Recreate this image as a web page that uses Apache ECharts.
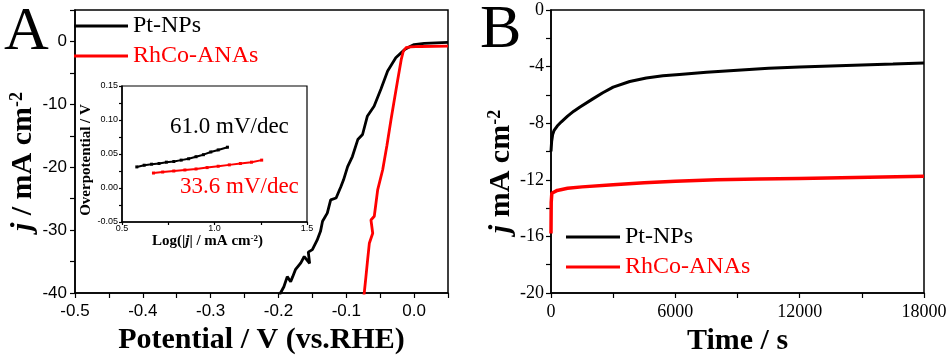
<!DOCTYPE html>
<html><head><meta charset="utf-8">
<script src="https://cdn.jsdelivr.net/npm/echarts@6/dist/echarts.min.js"></script>
<style>html,body{margin:0;padding:0;background:#fff}#c{width:951px;height:358px}</style>
</head><body><div id="c"></div>
<script>
// ---- data ----
const seriesNames = ['Pt-NPs', 'RhCo-ANAs'];

// Panel A: polarization curves (Potential V vs RHE, j mA cm-2)
const lsvPtPotential = [-0.205,-0.197,-0.192,-0.187,-0.182,-0.179,-0.175,-0.167,-0.162,-0.154,-0.156,-0.150,-0.143,-0.138,-0.135,-0.128,-0.123,-0.115,-0.108,-0.104,-0.098,-0.091,-0.083,-0.076,-0.069,-0.059,-0.049,-0.039,-0.027,-0.014,-0.006,0.000,0.015,0.050];
const lsvPtCurrent   = [-42,-40,-39.0,-37.4,-38.2,-37.4,-36.3,-35.2,-34.2,-35.3,-33.5,-33.1,-31.6,-30.2,-28.6,-27.3,-25.2,-24.9,-23.1,-22.0,-19.9,-18.3,-15.6,-14.8,-11.9,-10.3,-7.6,-4.7,-2.6,-1.3,-0.8,-0.5,-0.3,-0.15];
const lsvRhPotential = [-0.076,-0.0735,-0.071,-0.0685,-0.066,-0.061,-0.0636,-0.0587,-0.0537,-0.0463,-0.040,-0.034,-0.029,-0.024,-0.019,-0.016,-0.012,-0.005,0.010,0.050];
const lsvRhCurrent   = [-42,-40,-37.4,-34.7,-32.1,-30.5,-28.4,-27.8,-23.6,-20.4,-16.5,-12.4,-9.2,-6.0,-2.9,-1.6,-1.0,-0.85,-0.8,-0.75];

// Inset: Tafel plots (log|j|, overpotential V)
const tafelPtLog = [0.58,0.62,0.66,0.70,0.74,0.78,0.82,0.86,0.90,0.94,0.98,1.02,1.07];
const tafelPtEta = [0.031,0.0335,0.035,0.036,0.038,0.039,0.041,0.043,0.046,0.049,0.053,0.056,0.060];
const tafelRhLog = [0.67,0.72,0.78,0.84,0.90,0.96,1.02,1.08,1.14,1.20,1.255];
const tafelRhEta = [0.022,0.0235,0.025,0.0265,0.028,0.030,0.032,0.034,0.036,0.038,0.041];
const tafelLabels = ['61.0 mV/dec', '33.6 mV/dec'];

// Panel B: chronoamperometry (time s, j mA cm-2)
const itPtTime = [0,30,80,150,300,500,800,1100,1400,2000,2500,3000,3800,4600,5400,6200,7500,9000,10500,12000,13500,15000,16500,18000];
const itPtCurrent = [-10.0,-9.3,-8.8,-8.5,-8.2,-7.9,-7.5,-7.15,-6.85,-6.3,-5.85,-5.45,-5.05,-4.8,-4.65,-4.55,-4.4,-4.25,-4.12,-4.02,-3.95,-3.88,-3.82,-3.75];
const itRhTime = [0,10,40,100,300,800,1500,3000,4500,6000,8000,10000,12000,14000,16000,18000];
const itRhCurrent = [-15.8,-13.6,-12.95,-12.85,-12.75,-12.6,-12.5,-12.35,-12.2,-12.1,-12.0,-11.95,-11.9,-11.85,-11.8,-11.75];

// ---- chart ----
const BLACK = '#000000', RED = '#ff0000';
const SERIF = 'Liberation Serif', SANS = 'Liberation Sans';
const pairs = (xs, ys) => xs.map((x, i) => [x, ys[i]]);
const axLine = {show: true, onZero: false, lineStyle: {color: BLACK, width: 1.5}};
const tick = (len) => ({show: true, length: len, lineStyle: {color: BLACK, width: 1.2}});

function lbl(fmt, size, family, margin) {
  return {formatter: fmt, fontSize: size, fontFamily: family, color: BLACK, margin: margin};
}
const nameStyle = (size) => ({fontSize: size, fontWeight: 'bold', fontFamily: SERIF, color: BLACK});
const richY = {
  i: {fontSize: 30, fontWeight: 'bold', fontStyle: 'italic', fontFamily: SERIF, color: BLACK},
  s: {fontSize: 18, fontWeight: 'bold', fontFamily: SERIF, color: BLACK, verticalAlign: 'top', lineHeight: 16}
};

const chart = echarts.init(document.getElementById('c'));
chart.setOption({
  animation: false,
  backgroundColor: '#fff',
  grid: [
    {left: 75, top: 10, width: 373, height: 283, show: true, borderColor: BLACK, borderWidth: 1.5, backgroundColor: 'transparent', containLabel: false, outerBoundsMode: 'none'},
    {left: 551, top: 10, width: 373, height: 283, show: true, borderColor: BLACK, borderWidth: 1.5, backgroundColor: 'transparent', containLabel: false, outerBoundsMode: 'none'},
    {left: 122, top: 86, width: 185, height: 136, show: true, borderColor: BLACK, borderWidth: 1.2, backgroundColor: '#fff', containLabel: false, outerBoundsMode: 'none'}
  ],
  xAxis: [
    {gridIndex: 0, type: 'value', min: -0.5, max: 0.05, interval: 0.05,
     axisLine: axLine, axisTick: tick(5), splitLine: {show: false},
     axisLabel: lbl(v => { const k = Math.round(v * 100); return k % 10 === 0 ? (k / 100).toFixed(1) : ''; }, 17, SANS, 10),
     name: 'Potential / V (vs.RHE)', nameLocation: 'middle', nameGap: 25, nameTextStyle: nameStyle(30)},
    {gridIndex: 1, type: 'value', min: 0, max: 18000, interval: 3000,
     axisLine: axLine, axisTick: tick(5), splitLine: {show: false},
     axisLabel: lbl(v => (Math.round(v) % 6000 === 0 ? String(Math.round(v)) : ''), 18, SERIF, 10),
     name: 'Time / s', nameLocation: 'middle', nameGap: 25, nameTextStyle: nameStyle(30)},
    {gridIndex: 2, type: 'value', min: 0.5, max: 1.5, interval: 0.25,
     axisLine: axLine, axisTick: tick(3), splitLine: {show: false},
     axisLabel: lbl(v => { const k = Math.round(v * 100); return k % 50 === 0 ? (k / 100).toFixed(1) : ''; }, 9, SANS, 2),
     name: 'Log(|{i|j}| / mA cm{s|-2})', nameLocation: 'middle', nameGap: 10,
     nameTextStyle: Object.assign(nameStyle(15), {padding: [0, 14, 0, 0], rich: {
       i: {fontSize: 15, fontWeight: 'bold', fontStyle: 'italic', fontFamily: SERIF, color: BLACK},
       s: {fontSize: 9, fontWeight: 'bold', fontFamily: SERIF, color: BLACK, verticalAlign: 'top', lineHeight: 9}}})}
  ],
  yAxis: [
    {gridIndex: 0, type: 'value', min: -40, max: 5, interval: 5,
     axisLine: axLine, axisTick: tick(5), splitLine: {show: false},
     axisLabel: lbl(v => { const k = Math.round(v); return (k % 10 === 0 && k <= 0) ? String(k) : ''; }, 17, SANS, 8),
     name: '{i|j} / mA cm{s|-2}', nameLocation: 'middle', nameRotate: 90, nameGap: 33,
     nameTextStyle: Object.assign(nameStyle(30), {padding: [0, 20, 0, 0], rich: richY})},
    {gridIndex: 1, type: 'value', min: -20, max: 0, interval: 2,
     axisLine: axLine, axisTick: tick(5), splitLine: {show: false},
     axisLabel: lbl(v => { const k = Math.round(v); return k % 4 === 0 ? String(k) : ''; }, 18, SERIF, 7),
     name: '{i|j} mA cm{s|-2}', nameLocation: 'middle', nameRotate: 90, nameGap: 30,
     nameTextStyle: Object.assign(nameStyle(30), {padding: [0, 40, 0, 0], rich: richY})},
    {gridIndex: 2, type: 'value', min: -0.05, max: 0.15, interval: 0.025,
     axisLine: axLine, axisTick: tick(3), splitLine: {show: false},
     axisLabel: lbl(v => { const k = Math.round(v * 1000); return k % 50 === 0 ? (k / 1000).toFixed(2) : ''; }, 9, SANS, 4),
     name: 'Overpotential / V', nameLocation: 'middle', nameRotate: 90, nameGap: 25,
     nameTextStyle: Object.assign(nameStyle(15), {padding: [0, 12, 0, 0]})}
  ],
  legend: [
    {orient: 'vertical', left: 74, top: 14, padding: 0, itemGap: 6, itemWidth: 54, itemHeight: 3, icon: 'rect',
     textStyle: {fontSize: 24, fontFamily: SERIF},
     data: [{name: seriesNames[0], textStyle: {color: BLACK}}, {name: seriesNames[1], textStyle: {color: RED}}]},
    {orient: 'vertical', left: 566, top: 225, padding: 0, itemGap: 6, itemWidth: 54, itemHeight: 3, icon: 'rect',
     textStyle: {fontSize: 24, fontFamily: SERIF},
     data: [{name: seriesNames[0], textStyle: {color: BLACK}}, {name: seriesNames[1], textStyle: {color: RED}}]}
  ],
  graphic: [
    {type: 'text', left: 4, top: 2, style: {text: 'A', font: '62px "Liberation Serif"', fill: BLACK}},
    {type: 'text', left: 480, top: 0, style: {text: 'B', font: '62px "Liberation Serif"', fill: BLACK}},
    {type: 'text', left: 170, top: 115, style: {text: tafelLabels[0], font: '23px "Liberation Serif"', fill: BLACK}},
    {type: 'text', left: 180, top: 175, style: {text: tafelLabels[1], font: '23px "Liberation Serif"', fill: RED}}
  ],
  series: [
    {name: seriesNames[0], type: 'line', xAxisIndex: 0, yAxisIndex: 0, data: pairs(lsvPtPotential, lsvPtCurrent),
     showSymbol: false, symbol: 'none', lineStyle: {color: BLACK, width: 2.8}, itemStyle: {color: BLACK}, clip: true},
    {name: seriesNames[1], type: 'line', xAxisIndex: 0, yAxisIndex: 0, data: pairs(lsvRhPotential, lsvRhCurrent),
     showSymbol: false, symbol: 'none', lineStyle: {color: RED, width: 2.8}, itemStyle: {color: RED}, clip: true},
    {name: seriesNames[0], type: 'line', xAxisIndex: 1, yAxisIndex: 1, data: pairs(itPtTime, itPtCurrent),
     showSymbol: false, symbol: 'none', lineStyle: {color: BLACK, width: 3}, itemStyle: {color: BLACK}, clip: true},
    {name: seriesNames[1], type: 'line', xAxisIndex: 1, yAxisIndex: 1, data: pairs(itRhTime, itRhCurrent),
     showSymbol: false, symbol: 'none', lineStyle: {color: RED, width: 3.5}, itemStyle: {color: RED}, clip: true},
    {name: 'Pt-NPs Tafel', type: 'line', xAxisIndex: 2, yAxisIndex: 2, data: pairs(tafelPtLog, tafelPtEta),
     symbol: 'rect', symbolSize: 3, lineStyle: {color: BLACK, width: 2}, itemStyle: {color: BLACK}},
    {name: 'RhCo-ANAs Tafel', type: 'line', xAxisIndex: 2, yAxisIndex: 2, data: pairs(tafelRhLog, tafelRhEta),
     symbol: 'rect', symbolSize: 3, lineStyle: {color: RED, width: 2}, itemStyle: {color: RED}}
  ]
});
</script>
</body></html>
